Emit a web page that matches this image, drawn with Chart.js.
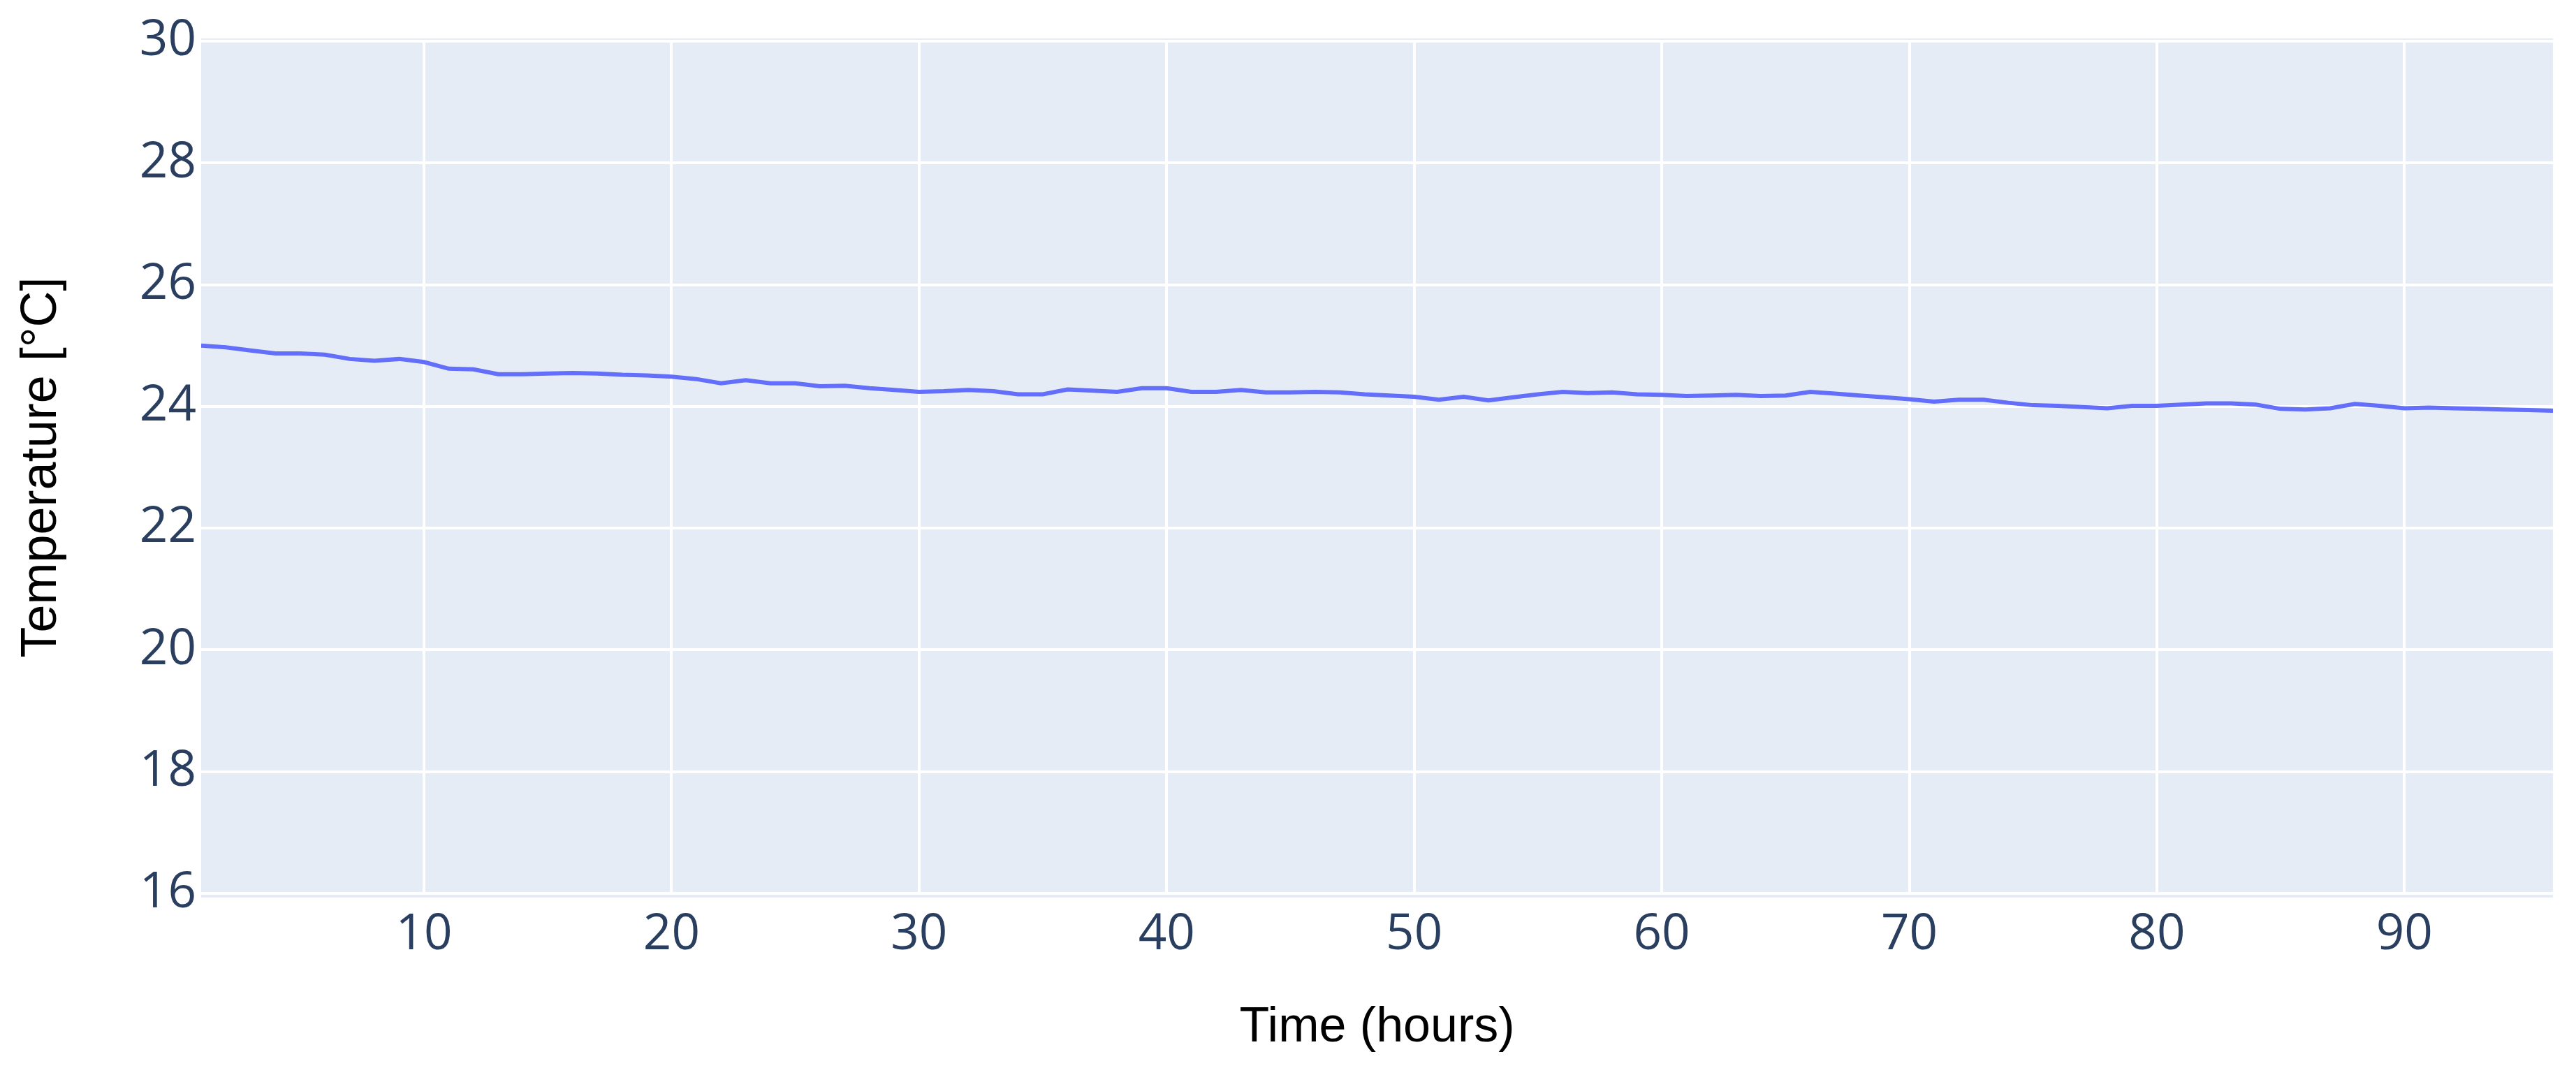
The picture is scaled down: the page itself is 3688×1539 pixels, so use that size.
<!DOCTYPE html>
<html lang="en">
<head>
  <meta charset="UTF-8">
  <title>Temperature over time</title>
  <script src="https://cdn.jsdelivr.net/npm/chart.js"></script>
  <style>
    html, body { margin: 0; padding: 0; background: #fff; }
    #wrap { width: 3688px; height: 1539px; }
  </style>
</head>
<body>
  <div id="wrap"><canvas id="tempChart" width="3688" height="1539"></canvas></div>

  <script>
    // hourly readings, hours 1..96
    const hours = [
      1, 2, 3, 4, 5, 6, 7, 8, 9, 10,
      11, 12, 13, 14, 15, 16, 17, 18, 19, 20,
      21, 22, 23, 24, 25, 26, 27, 28, 29, 30,
      31, 32, 33, 34, 35, 36, 37, 38, 39, 40,
      41, 42, 43, 44, 45, 46, 47, 48, 49, 50,
      51, 52, 53, 54, 55, 56, 57, 58, 59, 60,
      61, 62, 63, 64, 65, 66, 67, 68, 69, 70,
      71, 72, 73, 74, 75, 76, 77, 78, 79, 80,
      81, 82, 83, 84, 85, 86, 87, 88, 89, 90,
      91, 92, 93, 94, 95, 96
    ];

    const temperature = [
      25.00, 24.97, 24.92, 24.87, 24.87, 24.85, 24.78, 24.75, 24.78, 24.73,
      24.62, 24.61, 24.53, 24.53, 24.54, 24.55, 24.54, 24.52, 24.51, 24.49,
      24.45, 24.38, 24.43, 24.38, 24.38, 24.33, 24.34, 24.30, 24.27, 24.24,
      24.25, 24.27, 24.25, 24.20, 24.20, 24.28, 24.26, 24.24, 24.30, 24.30,
      24.24, 24.24, 24.27, 24.23, 24.23, 24.24, 24.23, 24.20, 24.18, 24.16,
      24.11, 24.16, 24.10, 24.15, 24.20, 24.24, 24.22, 24.23, 24.20, 24.19,
      24.17, 24.18, 24.19, 24.17, 24.18, 24.24, 24.21, 24.18, 24.15, 24.12,
      24.08, 24.11, 24.11, 24.06, 24.02, 24.01, 23.99, 23.97, 24.01, 24.01,
      24.03, 24.05, 24.05, 24.03, 23.96, 23.95, 23.97, 24.04, 24.01, 23.97,
      23.98, 23.97, 23.96, 23.95, 23.94, 23.93
    ];

    const xTicks = [10, 20, 30, 40, 50, 60, 70, 80, 90];
    const yTicks = [16, 18, 20, 22, 24, 26, 28, 30];

    const points = hours.map((h, i) => ({ x: h, y: temperature[i] }));

    // light blue plot background like plotly
    const plotBg = {
      id: "plotBg",
      beforeDraw(chart) {
        const { ctx, chartArea: a } = chart;
        ctx.save();
        ctx.fillStyle = "#e5ecf6";
        ctx.fillRect(a.left, a.top - 4, a.right - a.left, a.bottom - a.top + 10);
        ctx.restore();
      }
    };

    const tickFont = { family: "'Open Sans', sans-serif", size: 71 };

    new Chart(document.getElementById("tempChart"), {
      type: "line",
      data: {
        datasets: [{
          label: "Temperature",
          data: points,
          borderColor: "#636efa",
          borderWidth: 6,
          pointRadius: 0,
          tension: 0,
          fill: false
        }]
      },
      options: {
        responsive: false,
        devicePixelRatio: 1,
        animation: false,
        layout: { padding: { left: 0, right: 33, top: 59, bottom: 0 } },
        plugins: {
          legend: { display: false },
          tooltip: { enabled: false }
        },
        scales: {
          x: {
            type: "linear",
            min: 1,
            max: 96,
            afterBuildTicks: (s) => { s.ticks = xTicks.map(v => ({ value: v })); },
            afterFit: (s) => { s.height = 260; },
            grid: { color: "#ffffff", lineWidth: 4, drawTicks: false },
            border: { display: false },
            ticks: { font: tickFont, color: "#2a3f5f", padding: 17, maxRotation: 0 },
            title: {
              display: true,
              text: "Time (hours)",
              color: "#000",
              font: { family: "'Liberation Sans', Arial, sans-serif", size: 70 },
              padding: { top: 0, bottom: 25 }
            }
          },
          y: {
            min: 16,
            max: 30,
            afterBuildTicks: (s) => { s.ticks = yTicks.map(v => ({ value: v })); },
            afterFit: (s) => { s.width = 288; },
            grid: { color: "#ffffff", lineWidth: 4, drawTicks: false },
            border: { display: false },
            ticks: { font: tickFont, color: "#2a3f5f", padding: 7 },
            title: {
              display: true,
              text: "Temperature [°C]",
              color: "#000",
              font: { family: "'Liberation Sans', Arial, sans-serif", size: 72 },
              padding: { top: 17, bottom: 0 }
            }
          }
        }
      },
      plugins: [plotBg]
    });
  </script>
</body>
</html>
